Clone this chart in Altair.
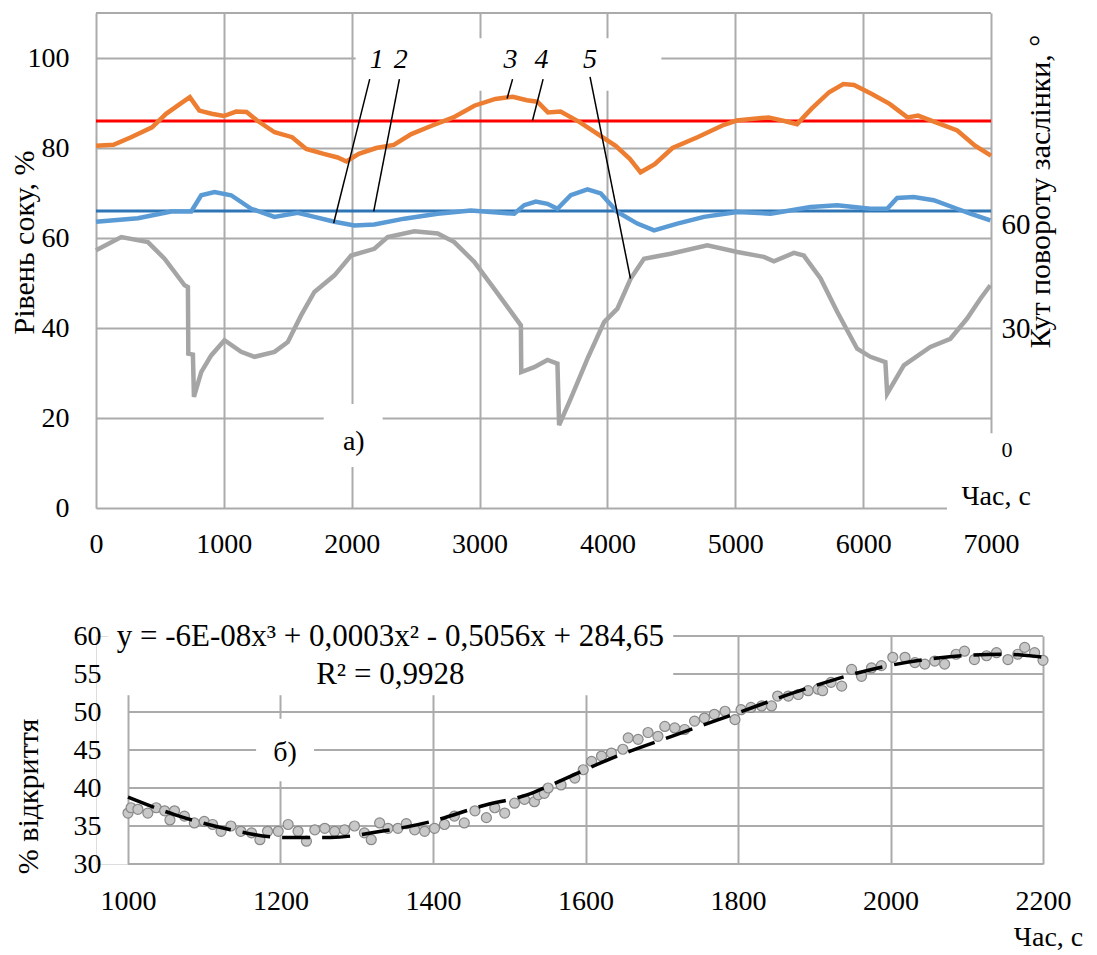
import altair as alt
import pandas as pd

FONT = "Liberation Serif"
GRID = "#ababab"

# ---------------- panel а) ----------------
time_ticks = [0, 1000, 2000, 3000, 4000, 5000, 6000, 7000]
level_ticks = [0, 20, 40, 60, 80, 100]
level_top = 110
angle_ticks = [0, 30, 60]
angle_domain = [-21.6, 120.9]

orange_t = [0, 137, 274, 438, 548, 658, 734, 808, 904, 1000, 1096, 1178, 1260, 1397, 1534, 1644, 1781, 1890,
            1959, 2055, 2192, 2329, 2466, 2630, 2795, 2959, 3123, 3260, 3370, 3452, 3535, 3633, 3786, 3925,
            4064, 4175, 4259, 4370, 4509, 4704, 4899, 5010, 5261, 5400, 5483, 5595, 5734, 5845, 5929, 6068,
            6207, 6346, 6430, 6569, 6736, 6875, 7000]
orange_v = [80.5, 80.7, 82.4, 84.6, 87.6, 89.8, 91.3, 88.3, 87.6, 87.1, 88.1, 88.0, 86.1, 83.5, 82.4, 79.8,
            78.7, 77.9, 77.0, 78.7, 80.0, 80.7, 83.1, 85.0, 86.8, 89.4, 90.9, 91.4, 90.6, 90.3, 87.9, 88.1,
            85.7, 83.1, 80.5, 77.6, 74.6, 76.4, 80.0, 82.4, 85.0, 86.1, 86.8, 85.9, 85.3, 88.7, 92.4, 94.2,
            94.0, 92.0, 89.8, 86.8, 87.2, 85.7, 83.9, 80.5, 78.3]

blue_t = [0, 328, 588, 745, 823, 927, 1057, 1214, 1396, 1578, 1708, 1865, 2021, 2177, 2411, 2672, 2932,
          3271, 3349, 3440, 3531, 3609, 3713, 3844, 3948, 4078, 4234, 4365, 4547, 4755, 5016, 5276, 5589,
          5797, 6057, 6188, 6266, 6396, 6552, 6734, 6838, 6995]
blue_v = [63.6, 64.4, 65.9, 65.9, 69.5, 70.2, 69.5, 66.5, 64.7, 65.6, 64.7, 63.6, 62.8, 63.0, 64.3, 65.4,
          66.1, 65.4, 67.3, 68.1, 67.6, 66.5, 69.5, 70.8, 69.9, 65.8, 63.2, 61.7, 63.2, 64.7, 65.8, 65.4,
          66.9, 67.3, 66.5, 66.5, 68.9, 69.1, 68.4, 66.5, 65.4, 63.9]

gray_t = [0, 198, 406, 536, 693, 719, 722, 758, 766, 823, 901, 1005, 1135, 1240, 1396, 1500, 1604, 1708,
          1865, 1995, 2177, 2281, 2490, 2672, 2802, 2958, 3115, 3323, 3326, 3427, 3531, 3609, 3622, 3713,
          3844, 3974, 4078, 4182, 4286, 4495, 4781, 5016, 5224, 5302, 5458, 5536, 5667, 5797, 5953, 6057,
          6174, 6188, 6318, 6526, 6682, 6813, 6917, 6995]
gray_v = [57.3, 60.2, 59.1, 55.4, 49.5, 49.1, 34.3, 34.1, 24.7, 30.2, 33.9, 37.3, 34.7, 33.6, 34.7, 36.9,
          42.8, 48.0, 51.7, 56.1, 57.6, 60.2, 61.5, 61.0, 59.1, 54.7, 48.7, 40.6, 30.2, 31.3, 32.9, 32.1,
          18.4, 24.3, 33.2, 41.3, 44.3, 51.0, 55.4, 56.5, 58.4, 56.9, 55.8, 54.8, 56.7, 56.1, 51.0, 43.6,
          35.4, 33.6, 32.4, 25.4, 31.7, 35.8, 37.6, 42.1, 46.5, 49.5]

red_setpoint = 86
blue_setpoint = 66

num_text = ["1", "2", "3", "4", "5"]
num_t = [2195, 2383, 3242, 3484, 3864]
num_v = [99.6, 99.6, 99.6, 99.6, 99.6]
lead_t = [2141, 2373, 3258, 3497, 3864]
lead_v = [95.3, 95.3, 95.3, 95.3, 95.8]
lead_t2 = [1859, 2172, 3215, 3414, 4180]
lead_v2 = [63.3, 65.9, 91.0, 86.1, 51.0]

mask_t = [2031, 1781, 6656]
mask_t2 = [4422, 2242, 7359]
mask_v = [92.7, 9.1, -1.5]
mask_v2 = [104.4, 23.1, 16.6]

top_text = ["а)", "Час, с"]
top_text_t = [2016, 7040]
top_text_v = [14.7, 2.4]

# ---------------- panel б) ----------------
open_x_ticks = [1000, 1200, 1400, 1600, 1800, 2000, 2200]
open_y_ticks = [30, 35, 40, 45, 50, 55, 60]

scatter_t = [1000, 1004, 1013, 1026, 1037, 1048, 1055, 1061, 1074, 1087, 1100, 1111, 1122, 1135, 1148, 1162,
             1173, 1183, 1197, 1210, 1223, 1234, 1245, 1258, 1271, 1284, 1297, 1310, 1319, 1330, 1341, 1354,
             1365, 1376, 1389, 1402, 1415, 1428, 1441, 1455, 1470, 1481, 1494, 1507, 1520, 1533, 1538, 1546,
             1551, 1568, 1586, 1597, 1608, 1621, 1634, 1649, 1656, 1669, 1682, 1695, 1704, 1717, 1730, 1743,
             1756, 1769, 1783, 1796, 1804, 1817, 1831, 1844, 1852, 1866, 1879, 1892, 1905, 1911, 1922, 1936,
             1949, 1962, 1975, 1988, 2003, 2019, 2032, 2045, 2058, 2071, 2086, 2097, 2110, 2126, 2139, 2154,
             2167, 2176, 2189, 2200]
scatter_v = [36.7, 37.4, 37.2, 36.7, 37.4, 37.0, 35.8, 37.0, 36.3, 35.4, 35.6, 35.2, 34.3, 35.0, 34.3, 34.1,
             33.2, 34.3, 34.3, 35.2, 34.3, 33.0, 34.5, 34.7, 34.3, 34.5, 35.0, 34.1, 33.2, 35.4, 34.7, 34.7,
             35.3, 34.5, 34.3, 34.7, 35.2, 36.3, 35.4, 37.0, 36.1, 37.4, 36.7, 38.0, 38.5, 38.2, 39.1, 39.3,
             40.0, 40.4, 41.3, 42.4, 43.5, 44.2, 44.6, 45.1, 46.6, 46.4, 47.3, 46.8, 48.1, 47.9, 47.7, 48.8,
             49.2, 49.7, 50.1, 49.0, 50.3, 50.6, 50.8, 50.8, 52.1, 52.1, 52.3, 52.8, 53.0, 52.8, 53.9, 53.4,
             55.6, 54.7, 55.8, 56.1, 57.2, 57.2, 56.5, 56.3, 56.7, 56.3, 57.6, 58.0, 56.9, 57.4, 57.8, 56.9,
             57.6, 58.5, 57.8, 56.8]

trend_t = [1000, 1061, 1135, 1201, 1266, 1332, 1398, 1463, 1529, 1555, 1634, 1713, 1800, 1887, 1975, 2062,
           2150, 2200]
trend_v = [38.8, 36.5, 34.5, 33.5, 33.5, 34.3, 35.6, 37.6, 39.3, 40.4, 43.9, 46.8, 49.9, 53.0, 55.6, 57.1,
           57.6, 57.2]

eq_text = ["y = -6E-08x³ + 0,0003x² - 0,5056x + 284,65", "R² = 0,9928"]
eq_t = [1344, 1344]
eq_v = [59.9, 54.9]
panel_b_text = ["б)"]
panel_b_t = [1206]
panel_b_v = [44.6]

bmask_t = [974, 1168]
bmask_t2 = [1715, 1244]
bmask_v = [52.2, 40.9]
bmask_v2 = [62.6, 49.1]

# ================= build panel а) =================
TW, TH = 895, 495


def x_top():
    return alt.X("t:Q", scale=alt.Scale(domain=[0, 7000], nice=False, zero=False),
                 axis=alt.Axis(values=time_ticks, format="d", grid=True, gridColor=GRID, gridWidth=2,
                               domain=False, ticks=False, tickSize=0, labelPadding=22, labelFont=FONT,
                               labelFontSize=28, labelColor="black", labelFlush=False, labelOverlap=False,
                               title=None))


def y_left():
    return alt.Y("v:Q", scale=alt.Scale(domain=[0, level_top], nice=False, zero=False),
                 axis=alt.Axis(values=level_ticks, format="d", grid=True, gridColor=GRID, gridWidth=2,
                               domain=False, ticks=False, tickSize=0, labelPadding=27, labelFont=FONT,
                               labelFontSize=28, labelColor="black", labelOverlap=False,
                               title="Рівень соку, %", titleFont=FONT, titleFontSize=30,
                               titleFontWeight="normal", titleColor="black", titleAngle=270,
                               titleX=-72, titleY=229, titleAlign="center", titleBaseline="middle"))


def line_layer(ts, vs, color, width):
    df = pd.DataFrame({"t": ts, "v": vs, "i": list(range(len(ts)))})
    return alt.Chart(df).mark_line(color=color, strokeWidth=width).encode(
        x=x_top(), y=y_left(), order=alt.Order("i:Q"))


top_border = line_layer([time_ticks[0], time_ticks[-1]], [level_top, level_top], GRID, 2)
orange = line_layer(orange_t, orange_v, "#ED7D31", 4.5)
blue = line_layer(blue_t, blue_v, "#5B9BD5", 4.5)
gray = line_layer(gray_t, gray_v, "#A5A5A5", 4.5)
red_sp = line_layer([time_ticks[0], time_ticks[-1]], [red_setpoint, red_setpoint], "#FF0000", 3)
blue_sp = line_layer([time_ticks[0], time_ticks[-1]], [blue_setpoint, blue_setpoint], "#2E75B6", 3)

mask_df = pd.DataFrame({"t": mask_t, "t2": mask_t2, "v": mask_v, "v2": mask_v2})
masks = alt.Chart(mask_df).mark_rect(color="white").encode(
    x=x_top(), x2="t2:Q", y=y_left(), y2="v2:Q")

lead_df = pd.DataFrame({"t": lead_t, "v": lead_v, "t2": lead_t2, "v2": lead_v2})
leaders = alt.Chart(lead_df).mark_rule(color="black", strokeWidth=1.5).encode(
    x=x_top(), y=y_left(), x2="t2:Q", y2="v2:Q")

num_df = pd.DataFrame({"t": num_t, "v": num_v, "txt": num_text})
nums = alt.Chart(num_df).mark_text(font=FONT, fontSize=28, fontStyle="italic", color="black",
                                   align="center", baseline="middle").encode(
    x=x_top(), y=y_left(), text="txt:N")

ttext_df = pd.DataFrame({"t": top_text_t, "v": top_text_v, "txt": top_text})
ttexts = alt.Chart(ttext_df).mark_text(font=FONT, fontSize=28, color="black",
                                       align="center", baseline="middle").encode(
    x=x_top(), y=y_left(), text="txt:N")

left_layers = alt.layer(top_border, blue_sp, red_sp, orange, blue, gray, masks, leaders, nums, ttexts)

angle_df = pd.DataFrame({"t": [0] * len(angle_ticks), "a": angle_ticks})
right_axis = alt.Chart(angle_df).mark_point(opacity=0).encode(
    x=x_top(),
    y=alt.Y("a:Q", scale=alt.Scale(domain=angle_domain, nice=False, zero=False),
            axis=alt.Axis(orient="right", values=angle_ticks, format="d", grid=False, domain=False,
                          ticks=False, tickSize=0, labelPadding=10, labelFont=FONT,
                          labelFontSize={"condition": {"test": "datum.value === 0", "value": 22}, "value": 29},
                          labelOffset={"condition": {"test": "datum.value === 0", "value": 17}, "value": 0},
                          labelColor="black", labelOverlap=False, zindex=1,
                          title="Кут повороту заслінки, °", titleFont=FONT, titleFontSize=30,
                          titleFontWeight="normal", titleColor="black", titleAngle=270,
                          titleX=49, titleY=178, titleAlign="center", titleBaseline="middle")))

top = alt.layer(left_layers, right_axis).resolve_scale(y="independent").properties(width=TW, height=TH)

# ================= build panel б) =================
BW, BH = 947, 228
X_OFF = 32


def x_bot():
    return alt.X("t:Q", scale=alt.Scale(domain=[open_x_ticks[0], open_x_ticks[-1]], range=[X_OFF, BW],
                                        nice=False, zero=False),
                 axis=alt.Axis(values=open_x_ticks, format="d", grid=True, gridColor=GRID, gridWidth=2,
                               domain=False, ticks=False, tickSize=0, labelPadding=23, labelFont=FONT,
                               labelFontSize=28, labelColor="black", labelFlush=False, labelOverlap=False,
                               title="Час, с", titleFont=FONT, titleFontSize=28, titleFontWeight="normal",
                               titleColor="black", titleX=952, titleY=73, titleAlign="center",
                               titleBaseline="middle"))


def y_bot():
    return alt.Y("v:Q", scale=alt.Scale(domain=[open_y_ticks[0], open_y_ticks[-1]], nice=False, zero=False),
                 axis=alt.Axis(values=open_y_ticks, format="d", grid=False, domain=False, ticks=False,
                               tickSize=0, offset=-X_OFF, labelPadding=27, labelFont=FONT, labelFontSize=28,
                               labelColor="black", labelOverlap=False,
                               title="% відкриття", titleFont=FONT, titleFontSize=30,
                               titleFontWeight="normal", titleColor="black", titleAngle=270,
                               titleX=-100, titleY=160, titleAlign="center", titleBaseline="middle"))


hgrid_df = pd.DataFrame({"v": open_y_ticks, "t": [open_x_ticks[0]] * len(open_y_ticks),
                         "t2": [open_x_ticks[-1]] * len(open_y_ticks)})
hgrid = alt.Chart(hgrid_df).mark_rule(color=GRID, strokeWidth=2).encode(x=x_bot(), x2="t2:Q", y=y_bot())

sc_df = pd.DataFrame({"t": scatter_t, "v": scatter_v})
scatter = alt.Chart(sc_df).mark_point(shape="circle", filled=True, size=100, fill="#c8c8c8",
                                      stroke="#888888", strokeWidth=1.2, opacity=1).encode(
    x=x_bot(), y=y_bot())

tr_df = pd.DataFrame({"t": trend_t, "v": trend_v})
trend = alt.Chart(tr_df).mark_line(color="black", strokeWidth=3.5, strokeDash=[28, 12],
                                   interpolate="monotone").encode(x=x_bot(), y=y_bot())

bmask_df = pd.DataFrame({"t": bmask_t, "t2": bmask_t2, "v": bmask_v, "v2": bmask_v2})
bmasks = alt.Chart(bmask_df).mark_rect(color="white").encode(x=x_bot(), x2="t2:Q", y=y_bot(), y2="v2:Q")

eq_df = pd.DataFrame({"t": eq_t, "v": eq_v, "txt": eq_text})
eqs = alt.Chart(eq_df).mark_text(font=FONT, fontSize=31, color="black", align="center",
                                 baseline="middle").encode(x=x_bot(), y=y_bot(), text="txt:N")

pb_df = pd.DataFrame({"t": panel_b_t, "v": panel_b_v, "txt": panel_b_text})
pb = alt.Chart(pb_df).mark_text(font=FONT, fontSize=28, color="black", align="center",
                                baseline="middle").encode(x=x_bot(), y=y_bot(), text="txt:N")

bottom = alt.layer(hgrid, scatter, trend, bmasks, eqs, pb).properties(width=BW, height=BH)

chart = alt.concat(top, bottom, columns=1, spacing=56).properties(
    padding={"left": 0, "top": 0, "right": 0, "bottom": 0}
).configure_view(strokeWidth=0).configure(background="white")

chart.save("out.html", embed_options={"renderer": "svg", "actions": False})
